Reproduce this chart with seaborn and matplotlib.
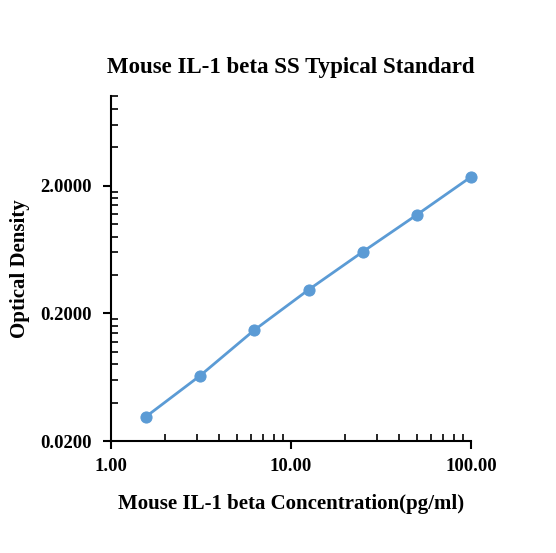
import numpy as np
import matplotlib
matplotlib.use("Agg")
import matplotlib.pyplot as plt
import matplotlib.ticker as mticker
import pandas as pd
import seaborn as sns

# standard curve values
concentration = [1.5625, 3.125, 6.25, 12.5, 25, 50, 100]
optical_density = [0.031, 0.065, 0.148, 0.306, 0.607, 1.185, 2.35]
y_ticks = [0.02, 0.2, 2.0]
x_ticks = [1, 10, 100]

df = pd.DataFrame({"conc": concentration, "od": optical_density})

sns.set_style("white")
plt.rcParams["font.family"] = ["Liberation Serif", "DejaVu Serif"]
plt.rcParams["font.weight"] = "bold"
plt.rcParams["text.color"] = "black"
plt.rcParams["xtick.color"] = "black"
plt.rcParams["ytick.color"] = "black"
plt.rcParams["axes.labelcolor"] = "black"

fig = plt.figure(figsize=(5.56, 5.53), dpi=100)
ax = fig.add_axes([0.1996, 0.2025, 0.6478, 0.623])

sns.lineplot(data=df, x="conc", y="od", ax=ax, color="#5B9BD5",
             linewidth=2.0, marker="o", markersize=8,
             markeredgecolor="#5B9BD5", zorder=3, clip_on=False)

ax.set_xscale("log")
ax.set_yscale("log")
ax.set_xlim(1, 100)
ax.set_ylim(0.02, 10)

ax.xaxis.set_major_locator(mticker.FixedLocator(x_ticks))
ax.xaxis.set_minor_locator(mticker.LogLocator(base=10, subs=np.arange(2, 10)))
ax.xaxis.set_major_formatter(mticker.FuncFormatter(lambda v, p: f"{v:.2f}"))
ax.xaxis.set_minor_formatter(mticker.NullFormatter())

minor_y = [0.02 * k * 10 ** n for n in range(3) for k in range(2, 10)]
minor_y = [v for v in minor_y if v <= 10.001]
ax.yaxis.set_major_locator(mticker.FixedLocator(y_ticks))
ax.yaxis.set_minor_locator(mticker.FixedLocator(minor_y))
ax.yaxis.set_major_formatter(mticker.FuncFormatter(lambda v, p: f"{v:.4f}"))
ax.yaxis.set_minor_formatter(mticker.NullFormatter())

for s in ["top", "right"]:
    ax.spines[s].set_visible(False)
for s in ["left", "bottom"]:
    ax.spines[s].set_color("black")
    ax.spines[s].set_linewidth(1.5)

ax.xaxis.set_tick_params(which="major", bottom=True, top=False,
                         direction="out", length=6, width=1.5,
                         labelsize=13.5, pad=6)
ax.yaxis.set_tick_params(which="major", left=True, right=False,
                         direction="out", length=6, width=1.5,
                         labelsize=13.5, pad=8)
ax.xaxis.set_tick_params(which="minor", bottom=True, top=False,
                         direction="in", length=5, width=1.2)
ax.yaxis.set_tick_params(which="minor", left=True, right=False,
                         direction="in", length=5, width=1.2)
for lab in ax.get_xticklabels() + ax.get_yticklabels():
    lab.set_fontweight("bold")

ax.set_xlabel("Mouse IL-1 beta Concentration(pg/ml)", fontsize=15,
              fontweight="bold", labelpad=14)
ax.set_ylabel("Optical Density", fontsize=15, fontweight="bold",
              labelpad=7)
ax.set_title("Mouse IL-1 beta SS Typical Standard", fontsize=16.5,
             fontweight="bold", pad=17)

fig.savefig("out.png", dpi=100)
